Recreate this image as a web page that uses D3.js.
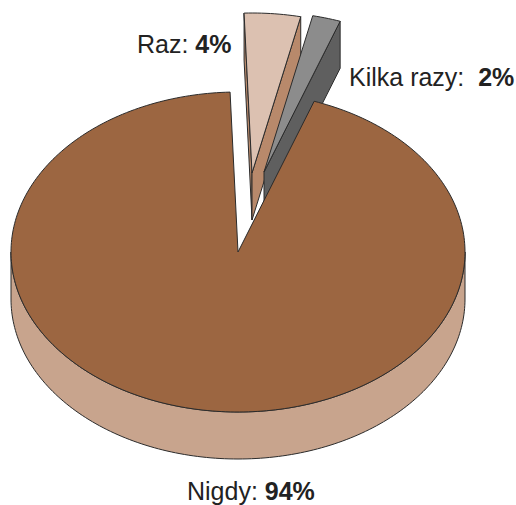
<!DOCTYPE html>
<html>
<head>
<meta charset="utf-8">
<script src="https://cdn.jsdelivr.net/npm/d3@7"></script>
<style>
  body { margin: 0; background: #fff; }
  svg { display: block; }
  text { white-space: pre; }
</style>
</head>
<body>
<svg id="chart" width="516" height="505"></svg>
<script>
const categories = ['Raz', 'Kilka razy', 'Nigdy'];
const values = [4, 2, 94];
const labelGaps = [' ', '  ', ' '];
const topColors = ['#dcc1b1', '#8c8c8c', '#9c6641'];
const sideColors = ['#b8896b', '#5f5f5f', '#c8a48d'];

// pie geometry
const cx = 238, cy = 252, rx = 227, ry = 160, depth = 47;
const startDeg = -2;
// how far each slice is pulled out (px)
const explode = [[14, -79], [26, -80], [0, 0]];
// label placement: [x, baseline]
const labelPos = [[137, 53], [349, 86], [187, 500]];

const svg = d3.select('#chart');

const pie = d3.pie()
    .sort(null)
    .startAngle(startDeg * Math.PI / 180)
    .endAngle((startDeg + 360) * Math.PI / 180);

const arcs = pie(values);

function pt(o, a, dz) {
    return [cx + o[0] + rx * Math.sin(a), cy + o[1] - ry * Math.cos(a) + dz];
}

function arcPts(o, a0, a1, dz) {
    const n = Math.max(2, Math.ceil(Math.abs(a1 - a0) / 0.02));
    return d3.range(n + 1).map(i => pt(o, a0 + (a1 - a0) * i / n, dz));
}

const line = d3.line();

function drawSlice(d, i) {
    const o = explode[i];
    const a0 = d.startAngle, a1 = d.endAngle;
    const apex = [cx + o[0], cy + o[1]];
    const g = svg.append('g')
        .attr('stroke', '#2b2b2b')
        .attr('stroke-width', 1)
        .attr('stroke-linejoin', 'round');

    // outer wall, front half only
    const s = Math.max(a0, Math.PI / 2), e = Math.min(a1, Math.PI * 1.5);
    if (e > s) {
        const pts = arcPts(o, s, e, 0).concat(arcPts(o, e, s, depth));
        g.append('path').attr('d', line(pts) + 'Z').attr('fill', sideColors[i]);
    }

    // cut faces that turn towards the viewer
    [[a0, Math.sin(a0) < 0], [a1, Math.sin(a1) > 0]].forEach(([a, vis]) => {
        if (!vis) return;
        const p = pt(o, a, 0), q = pt(o, a, depth);
        const pts = [apex, p, q, [apex[0], apex[1] + depth]];
        g.append('path').attr('d', line(pts) + 'Z').attr('fill', sideColors[i]);
    });

    // top face
    const pts = [apex].concat(arcPts(o, a0, a1, 0));
    g.append('path').attr('d', line(pts) + 'Z').attr('fill', topColors[i]);
}

// pulled-out slices sit behind the big one
const order = d3.range(arcs.length)
    .sort((a, b) => (explode[a][1] === 0) - (explode[b][1] === 0) || a - b);
order.forEach(i => drawSlice(arcs[i], i));

// labels
categories.forEach((c, i) => {
    const t = svg.append('text')
        .attr('x', labelPos[i][0])
        .attr('y', labelPos[i][1])
        .attr('font-family', 'Arial, "Liberation Sans", sans-serif')
        .attr('font-size', 25)
        .attr('fill', '#222');
    t.append('tspan').text(c + ':' + labelGaps[i]);
    t.append('tspan')
        .attr('font-weight', 'bold')
        .text(values[i] + '%');
});
</script>
</body>
</html>
